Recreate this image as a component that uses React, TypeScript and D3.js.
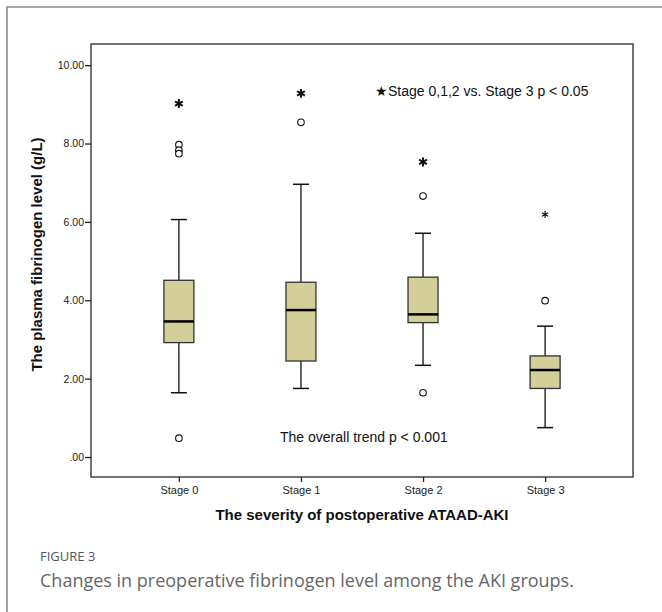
import { useEffect, useRef } from "react";
import * as d3 from "d3";

// box plot values (g/L)
const stages = ["Stage 0", "Stage 1", "Stage 2", "Stage 3"];
const whiskerLow = [1.64, 1.75, 2.34, 0.75];
const q1 = [2.92, 2.45, 3.43, 1.75];
const medians = [3.46, 3.75, 3.64, 2.22];
const q3 = [4.51, 4.46, 4.59, 2.58];
const whiskerHigh = [6.06, 6.96, 5.71, 3.34];
const outliers = [[7.97, 7.83, 7.74, 0.48], [8.54], [6.66, 1.64], [3.99]];
const extremes = [[9.02], [9.28], [7.53], [6.19]];
const yTicks = [0, 2, 4, 6, 8, 10];

const W = 662;
const H = 612;

export default function App() {
  const ref = useRef<SVGSVGElement>(null);

  useEffect(() => {
    const svg = d3.select(ref.current);
    svg.selectAll("*").remove();

    const left = 91,
      right = 633,
      top = 44,
      bottom = 477;

    const x = d3.scalePoint().domain(stages).range([left, right]).padding(0.72);
    const y = d3.scaleLinear().domain([-0.51, 10.54]).range([bottom, top]);

    // outer figure frame (cut at right & bottom)
    svg
      .append("path")
      .attr("d", `M7,${H} L7,7 L${W},7`)
      .attr("fill", "none")
      .attr("stroke", "#8a8a8a")
      .attr("stroke-width", 1.6);

    // plot frame
    svg
      .append("rect")
      .attr("x", left)
      .attr("y", top)
      .attr("width", right - left)
      .attr("height", bottom - top)
      .attr("fill", "white")
      .attr("stroke", "#444")
      .attr("stroke-width", 1.5);

    const font = "Arial, 'Liberation Sans', sans-serif";

    // y axis
    const yAxis = svg.append("g").attr("transform", `translate(${left},0)`);
    yAxis
      .call(
        d3
          .axisLeft(y)
          .tickValues(yTicks)
          .tickSize(6)
          .tickPadding(1)
          .tickFormat((d) => {
            const s = d3.format(".2f")(d as number);
            return s.startsWith("0") ? s.slice(1) : s;
          })
      )
      .call((g) => g.select(".domain").remove());
    yAxis.selectAll("line").attr("stroke", "#222").attr("stroke-width", 1.3);
    yAxis
      .selectAll("text")
      .attr("font-family", font)
      .attr("font-size", 10.5)
      .attr("fill", "#222");

    // x axis
    const xAxis = svg.append("g").attr("transform", `translate(0,${bottom})`);
    xAxis
      .call(d3.axisBottom(x).tickSize(5).tickPadding(4))
      .call((g) => g.select(".domain").remove());
    xAxis.selectAll("line").attr("stroke", "#222").attr("stroke-width", 1.3);
    xAxis
      .selectAll("text")
      .attr("font-family", font)
      .attr("font-size", 11)
      .attr("fill", "#222");

    // axis titles
    svg
      .append("text")
      .attr("x", (left + right) / 2)
      .attr("y", 520)
      .attr("text-anchor", "middle")
      .attr("font-family", font)
      .attr("font-weight", "bold")
      .attr("font-size", 15)
      .attr("fill", "#111")
      .text("The severity of postoperative ATAAD-AKI");

    svg
      .append("text")
      .attr("transform", `translate(42,${(top + bottom) / 2 - 6}) rotate(-90)`)
      .attr("text-anchor", "middle")
      .attr("font-family", font)
      .attr("font-weight", "bold")
      .attr("font-size", 15)
      .attr("fill", "#111")
      .text("The plasma fibrinogen level (g/L)");

    const boxW = 30;
    const capW = 16;
    const plot = svg.append("g");

    stages.forEach((s, i) => {
      const cx = x(s)!;
      const g = plot.append("g");
      // whiskers
      g.append("line")
        .attr("x1", cx)
        .attr("x2", cx)
        .attr("y1", y(whiskerHigh[i]))
        .attr("y2", y(q3[i]))
        .attr("stroke", "#111")
        .attr("stroke-width", 1.3);
      g.append("line")
        .attr("x1", cx)
        .attr("x2", cx)
        .attr("y1", y(q1[i]))
        .attr("y2", y(whiskerLow[i]))
        .attr("stroke", "#111")
        .attr("stroke-width", 1.3);
      [whiskerHigh[i], whiskerLow[i]].forEach((v) => {
        g.append("line")
          .attr("x1", cx - capW / 2)
          .attr("x2", cx + capW / 2)
          .attr("y1", y(v))
          .attr("y2", y(v))
          .attr("stroke", "#111")
          .attr("stroke-width", 1.5);
      });
      // box
      g.append("rect")
        .attr("x", cx - boxW / 2)
        .attr("y", y(q3[i]))
        .attr("width", boxW)
        .attr("height", y(q1[i]) - y(q3[i]))
        .attr("fill", "#d4cf98")
        .attr("stroke", "#333")
        .attr("stroke-width", 1.3);
      // median
      g.append("line")
        .attr("x1", cx - boxW / 2)
        .attr("x2", cx + boxW / 2)
        .attr("y1", y(medians[i]))
        .attr("y2", y(medians[i]))
        .attr("stroke", "#000")
        .attr("stroke-width", 2.5);
      // outliers
      outliers[i].forEach((v) => {
        g.append("circle")
          .attr("cx", cx)
          .attr("cy", y(v))
          .attr("r", 3.3)
          .attr("fill", "white")
          .attr("stroke", "#111")
          .attr("stroke-width", 1.1);
      });
      // extremes
      extremes[i].forEach((v) => {
        g.append("path")
          .attr("transform", `translate(${cx},${y(v)})`)
          .attr("d", d3.symbol(d3.symbolAsterisk, i === 3 ? 36 : 56)())
          .attr("fill", "none")
          .attr("stroke", "#111")
          .attr("stroke-width", i === 3 ? 1.2 : 2);
      });
    });

    // annotations
    svg
      .append("text")
      .attr("x", 375)
      .attr("y", 96)
      .attr("font-family", font)
      .attr("font-size", 14)
      .attr("fill", "#111")
      .text("\u2605Stage 0,1,2 vs. Stage 3 p < 0.05");

    svg
      .append("text")
      .attr("x", 280)
      .attr("y", 442)
      .attr("font-family", font)
      .attr("font-size", 14)
      .attr("fill", "#111")
      .text("The overall trend p < 0.001");

    // caption
    svg
      .append("text")
      .attr("x", 40)
      .attr("y", 561)
      .attr("font-family", "'Open Sans', sans-serif")
      .attr("font-size", 13)
      .attr("fill", "#555")
      .text("FIGURE 3");

    svg
      .append("text")
      .attr("x", 40)
      .attr("y", 587)
      .attr("font-family", "'Open Sans', sans-serif")
      .attr("font-size", 18)
      .attr("fill", "#666")
      .text("Changes in preoperative fibrinogen level among the AKI groups.");
  }, []);

  return (
    <svg
      ref={ref}
      width={W}
      height={H}
      style={{ position: "absolute", left: 0, top: 0, background: "white" }}
    />
  );
}
